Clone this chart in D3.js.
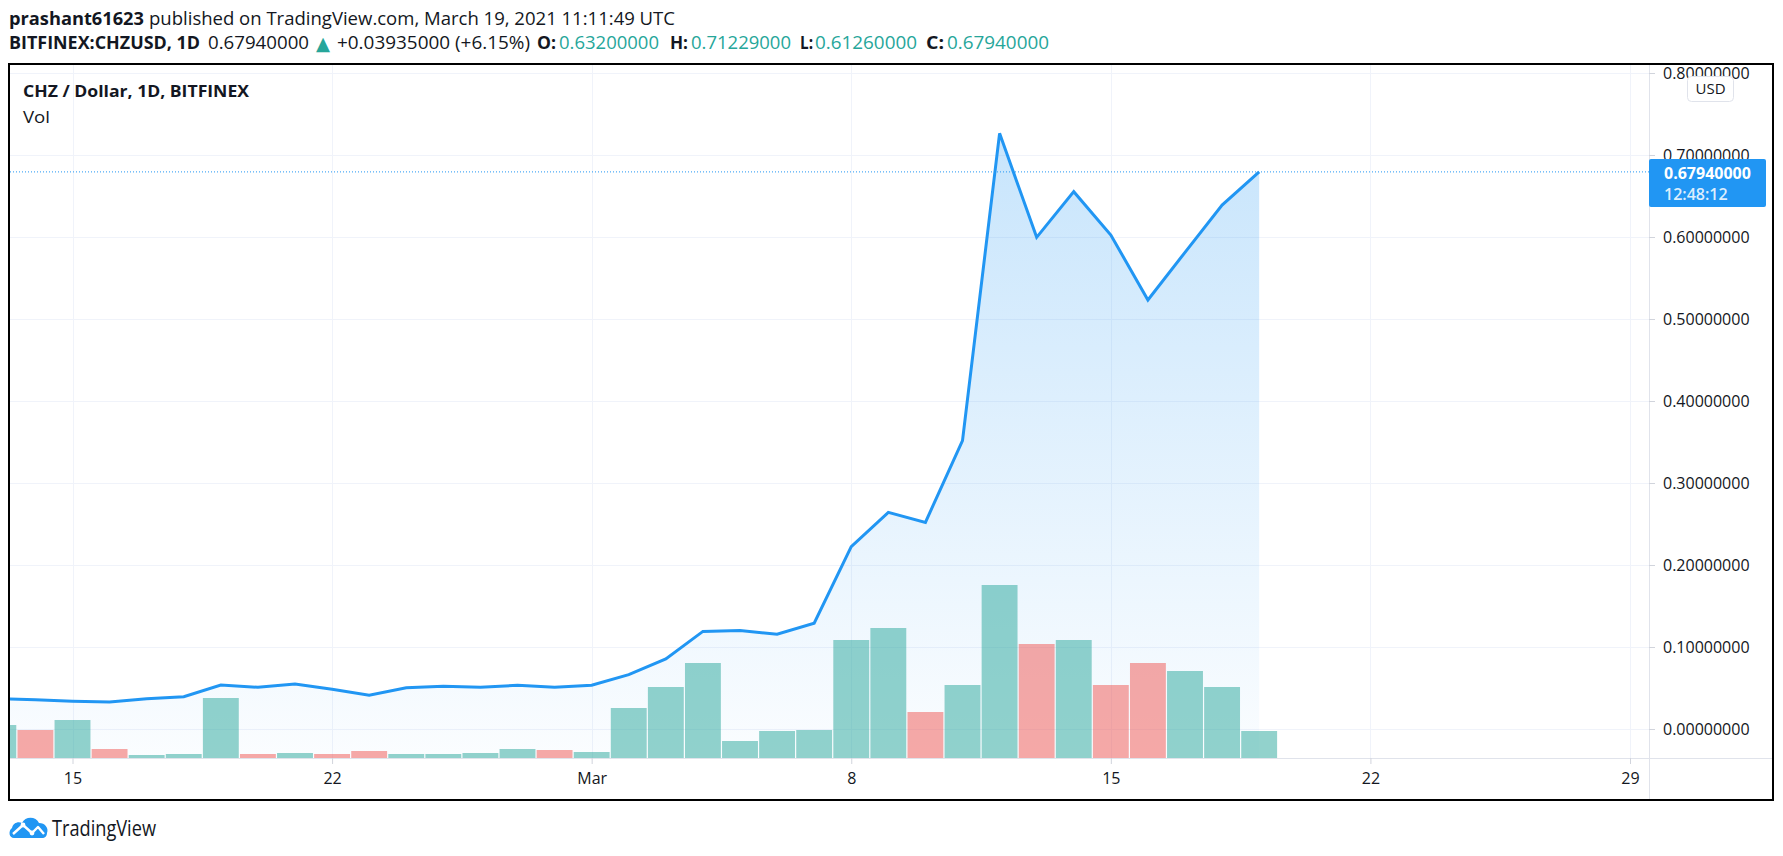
<!DOCTYPE html>
<html>
<head>
<meta charset="utf-8">
<script src="https://cdn.jsdelivr.net/npm/d3@7/dist/d3.min.js"></script>
<style>
  html, body { margin: 0; padding: 0; background: #ffffff; }
  svg { display: block; }
</style>
</head>
<body>
<script>
// ---------------- DATA ----------------
const dates = [
  "2021-02-13","2021-02-14","2021-02-15","2021-02-16","2021-02-17","2021-02-18","2021-02-19",
  "2021-02-20","2021-02-21","2021-02-22","2021-02-23","2021-02-24","2021-02-25","2021-02-26",
  "2021-02-27","2021-02-28","2021-03-01","2021-03-02","2021-03-03","2021-03-04","2021-03-05",
  "2021-03-06","2021-03-07","2021-03-08","2021-03-09","2021-03-10","2021-03-11","2021-03-12",
  "2021-03-13","2021-03-14","2021-03-15","2021-03-16","2021-03-17","2021-03-18","2021-03-19"
];
const closePrices = [
  0.0372, 0.0356, 0.0338, 0.0329, 0.0370, 0.0394, 0.0537,
  0.0509, 0.0549, 0.0484, 0.0411, 0.0504, 0.0521, 0.0509,
  0.0533, 0.0509, 0.0533, 0.0663, 0.0854, 0.1190, 0.1200,
  0.1155, 0.1290, 0.2223, 0.2642, 0.2520, 0.3516, 0.7264,
  0.5996, 0.6553, 0.6024, 0.5232, 0.5813, 0.6390, 0.6794
];
// volume (millions, estimated)
const volumes = [
  16.5, 14.0, 19.0, 4.5, 1.5, 2.0, 30.0,
  2.0, 2.5, 2.0, 3.5, 2.0, 2.0, 2.5,
  4.5, 4.0, 3.0, 25.0, 35.5, 47.5, 8.5,
  13.5, 14.0, 59.0, 65.0, 23.0, 36.5, 86.5,
  57.0, 59.0, 36.5, 47.5, 43.5, 35.5, 13.5
];
const volumeDirection = [
  "up","down","up","down","up","up","up",
  "down","up","down","down","up","up","up",
  "up","down","up","up","up","up","up",
  "up","up","up","up","down","up","up",
  "down","up","down","down","up","up","up"
];
const priceTicks = [0, 0.1, 0.2, 0.3, 0.4, 0.5, 0.6, 0.7, 0.8];
const timeTickDates = ["2021-02-15","2021-02-22","2021-03-01","2021-03-08","2021-03-15","2021-03-22","2021-03-29"];
const timeTickLabels = ["15","22","Mar","8","15","22","29"];
const lastPrice = 0.6794;
const countdown = "12:48:12";

const headerLine1 = [
  {t: "prashant61623", bold: true},
  {t: " published on TradingView.com, March 19, 2021 11:11:49 UTC", bold: false}
];
const headerLine2 = [
  {t: "BITFINEX:CHZUSD, 1D", c: "dark", bold: true},
  {t: "0.67940000", c: "dark", bold: false},
  {t: "\u25B2", c: "green", bold: false},
  {t: "+0.03935000 (+6.15%)", c: "dark", bold: false},
  {t: "O:", c: "dark", bold: true},
  {t: "0.63200000", c: "green", bold: false},
  {t: "H:", c: "dark", bold: true},
  {t: "0.71229000", c: "green", bold: false},
  {t: "L:", c: "dark", bold: true},
  {t: "0.61260000", c: "green", bold: false},
  {t: "C:", c: "dark", bold: true},
  {t: "0.67940000", c: "green", bold: false}
];

// ---------------- LAYOUT ----------------
const W = 1783, H = 856;
const frame = {left: 10, top: 65, right: 1772, bottom: 800};
const axisX = 1649;       // price-axis separator
const axisY = 758;        // time-axis separator
const DARK = "#131722", GREEN = "#26a69a", BLUE = "#2196f3", GRID = "#f0f3fa";
const FONT = "'Open Sans', 'Noto Sans', sans-serif";
const NARROW = "'Liberation Sans Narrow', 'Open Sans', sans-serif";

const parse = d3.utcParse("%Y-%m-%d");
const data = dates.map((d, i) => ({
  date: parse(d), close: closePrices[i], vol: volumes[i], dir: volumeDirection[i]
}));

const x = d3.scaleUtc()
  .domain([parse("2021-02-15"), parse("2021-03-29")])
  .range([72.5, 1630]);
const y = d3.scaleLinear().domain([0, 0.8]).range([729, 73]);
const yVol = d3.scaleLinear().domain([0, 100]).range([axisY, axisY - 200]);
const dayW = x(parse("2021-02-16")) - x(parse("2021-02-15"));
const barW = dayW - 1.2;

const svg = d3.select("body").append("svg").attr("width", W).attr("height", H);
const defs = svg.append("defs");
defs.append("clipPath").attr("id", "plotClip").append("rect")
  .attr("x", frame.left).attr("y", frame.top)
  .attr("width", axisX - frame.left).attr("height", axisY - frame.top);

const grad = defs.append("linearGradient").attr("id", "areaGrad")
  .attr("gradientUnits", "userSpaceOnUse")
  .attr("x1", 0).attr("x2", 0)
  .attr("y1", y(d3.max(closePrices))).attr("y2", axisY);
grad.append("stop").attr("offset", 0).attr("stop-color", BLUE).attr("stop-opacity", 0.25);
grad.append("stop").attr("offset", 1).attr("stop-color", BLUE).attr("stop-opacity", 0.02);

svg.append("rect").attr("width", W).attr("height", H).attr("fill", "#ffffff");

// ---------------- GRID ----------------
const plot = svg.append("g").attr("clip-path", "url(#plotClip)");
plot.selectAll("line.vgrid").data(timeTickDates).join("line")
  .attr("x1", d => Math.round(x(parse(d))) + 0.5).attr("x2", d => Math.round(x(parse(d))) + 0.5)
  .attr("y1", frame.top).attr("y2", axisY)
  .attr("stroke", GRID).attr("stroke-width", 1);
plot.selectAll("line.hgrid").data(priceTicks).join("line")
  .attr("x1", frame.left).attr("x2", axisX)
  .attr("y1", d => Math.round(y(d)) + 0.5).attr("y2", d => Math.round(y(d)) + 0.5)
  .attr("stroke", GRID).attr("stroke-width", 1);

// ---------------- AREA ----------------
plot.append("path").datum(data)
  .attr("d", d3.area().x(d => x(d.date)).y0(axisY).y1(d => y(d.close)))
  .attr("fill", "url(#areaGrad)");

// ---------------- VOLUME ----------------
plot.selectAll("rect.vol").data(data).join("rect")
  .attr("x", d => x(d.date) - barW / 2)
  .attr("width", barW)
  .attr("y", d => yVol(d.vol))
  .attr("height", d => axisY - yVol(d.vol))
  .attr("fill", d => d.dir === "up" ? "rgba(38,166,154,0.5)" : "rgba(239,83,80,0.5)");

// ---------------- LAST PRICE DOTTED ----------------
plot.append("line")
  .attr("x1", frame.left).attr("x2", axisX)
  .attr("y1", y(lastPrice)).attr("y2", y(lastPrice))
  .attr("stroke", BLUE).attr("stroke-width", 1).attr("stroke-dasharray", "1,2");

// ---------------- LINE ----------------
plot.append("path").datum(data)
  .attr("d", d3.line().x(d => x(d.date)).y(d => y(d.close)))
  .attr("fill", "none").attr("stroke", BLUE).attr("stroke-width", 3)
  .attr("stroke-linejoin", "miter");

// ---------------- AXES ----------------
svg.append("line").attr("x1", axisX + 0.5).attr("x2", axisX + 0.5)
  .attr("y1", frame.top).attr("y2", frame.bottom).attr("stroke", "#e0e3eb");
svg.append("line").attr("x1", frame.left).attr("x2", frame.right)
  .attr("y1", axisY + 0.5).attr("y2", axisY + 0.5).attr("stroke", "#e0e3eb");

const yAxis = d3.axisRight(y).tickValues(priceTicks)
  .tickFormat(d3.format(".8f")).tickSize(6).tickPadding(8);
const gy = svg.append("g").attr("transform", `translate(${axisX},0)`).call(yAxis);
gy.select(".domain").remove();
gy.selectAll(".tick line").attr("stroke", "#d1d4dc");
gy.selectAll(".tick text").attr("fill", DARK).attr("font-family", FONT)
  .attr("font-size", 16).attr("font-weight", 400);

const xAxis = d3.axisBottom(x).tickValues(timeTickDates.map(parse))
  .tickFormat((d, i) => timeTickLabels[i]).tickSize(6).tickPadding(6);
const gx = svg.append("g").attr("transform", `translate(0,${axisY})`).call(xAxis);
gx.select(".domain").remove();
gx.selectAll(".tick line").attr("stroke", "#d1d4dc");
gx.selectAll(".tick text").attr("fill", DARK).attr("font-family", FONT)
  .attr("font-size", 16).attr("dy", "0.85em");

// USD box
svg.append("rect").attr("x", 1687.5).attr("y", 76.5).attr("width", 46).attr("height", 25)
  .attr("rx", 4).attr("fill", "#ffffff").attr("stroke", "#e0e3eb");
svg.append("text").attr("x", 1710.5).attr("y", 94).attr("text-anchor", "middle")
  .attr("font-family", FONT).attr("font-size", 15).attr("fill", DARK).text("USD");

// last price label
svg.append("rect").attr("x", axisX).attr("y", 159).attr("width", 117).attr("height", 48)
  .attr("rx", 2).attr("fill", BLUE);
svg.append("text").attr("x", 1664).attr("y", 179)
  .attr("font-family", FONT).attr("font-size", 16).attr("font-weight", 700)
  .attr("fill", "#ffffff").text(d3.format(".8f")(lastPrice));
svg.append("text").attr("x", 1664).attr("y", 200)
  .attr("font-family", FONT).attr("font-size", 16).attr("font-weight", 600)
  .attr("fill", "#ffffff").attr("fill-opacity", 0.85).text(countdown);

// legend inside chart
svg.append("text").attr("x", 23).attr("y", 97)
  .attr("font-family", FONT).attr("font-size", 16).attr("font-weight", 700)
  .attr("fill", DARK).attr("textLength", 226).attr("lengthAdjust", "spacingAndGlyphs")
  .text("CHZ / Dollar, 1D, BITFINEX");
svg.append("text").attr("x", 23).attr("y", 123)
  .attr("font-family", FONT).attr("font-size", 16).attr("fill", DARK)
  .attr("textLength", 27).attr("lengthAdjust", "spacingAndGlyphs").text("Vol");

// frame
svg.append("rect").attr("x", 9).attr("y", 64).attr("width", 1764).attr("height", 736)
  .attr("fill", "none").attr("stroke", "#000000").attr("stroke-width", 2);

// ---------------- HEADER ----------------
const h1pos = [[9, 135], [149, 526]];
headerLine1.forEach((s, i) => {
  svg.append("text").attr("x", h1pos[i][0]).attr("y", 25)
    .attr("font-family", NARROW).attr("font-size", 18)
    .attr("font-weight", s.bold ? 700 : 400).attr("fill", DARK)
    .attr("textLength", h1pos[i][1]).attr("lengthAdjust", "spacingAndGlyphs")
    .text(s.t.trim());
});
const h2pos = [[9, 191], [208, 101], [316, 14], [337, 193], [537, 19], [559, 100],
               [670, 18], [691, 100], [800, 13], [815, 102], [926, 18], [947, 102]];
headerLine2.forEach((s, i) => {
  const isTri = s.t === "\u25B2";
  svg.append("text").attr("x", h2pos[i][0]).attr("y", isTri ? 50 : 49)
    .attr("font-family", isTri ? "'DejaVu Sans', sans-serif" : NARROW)
    .attr("font-size", isTri ? 19 : 18)
    .attr("font-weight", s.bold ? 700 : 400)
    .attr("fill", s.c === "green" ? GREEN : DARK)
    .attr("textLength", h2pos[i][1]).attr("lengthAdjust", "spacingAndGlyphs")
    .text(s.t);
});

// ---------------- LOGO ----------------
const logo = svg.append("g").attr("transform", "translate(8,815)");
logo.append("path")
  .attr("d", "M6,23 C1,23 0,16 4,13 C5,8 10,6 14,8 C17,1 28,1 31,8 C37,8 41,13 39,18 C39,21 37,23 34,23 Z")
  .attr("fill", BLUE);
logo.append("polyline").attr("points", "5,19 15,10 24,18 30,12 36,19")
  .attr("fill", "none").attr("stroke", "#ffffff").attr("stroke-width", 2.4)
  .attr("stroke-linejoin", "round");
logo.selectAll("circle").data([[15,10],[24,18]]).join("circle")
  .attr("cx", d => d[0]).attr("cy", d => d[1]).attr("r", 2.4).attr("fill", "#ffffff");
svg.append("text").attr("x", 52).attr("y", 836)
  .attr("font-family", NARROW).attr("font-size", 21).attr("fill", DARK)
  .attr("textLength", 104).attr("lengthAdjust", "spacingAndGlyphs").text("TradingView");
</script>
</body>
</html>
